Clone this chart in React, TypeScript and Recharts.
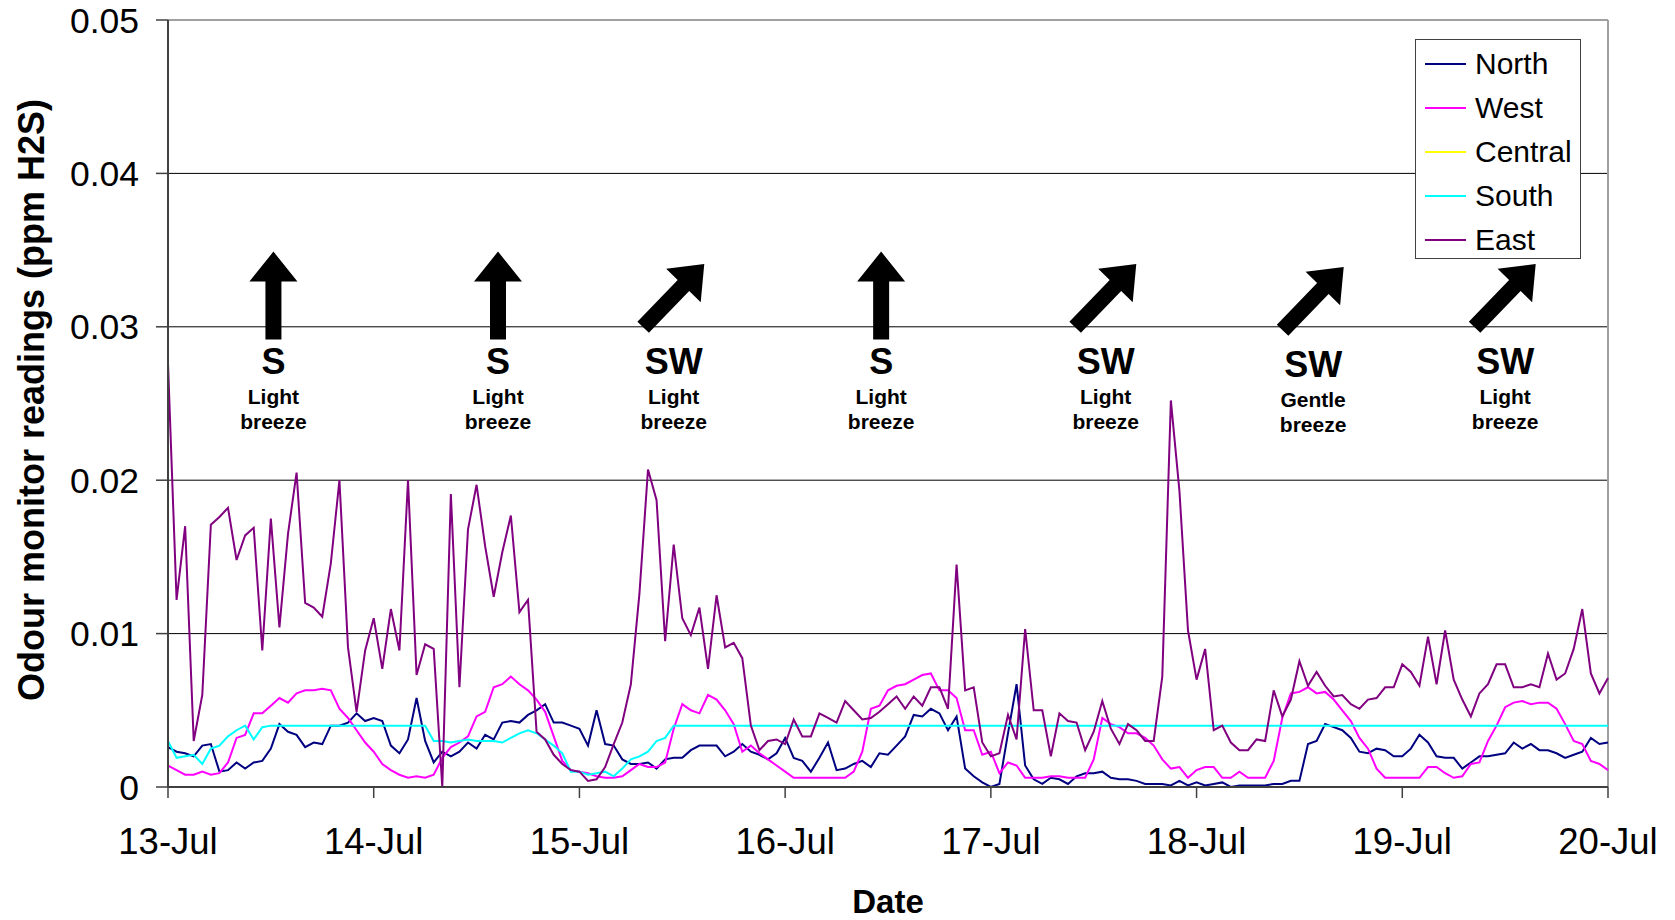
import {
  LineChart,
  Line,
  XAxis,
  YAxis,
  CartesianGrid,
  ReferenceLine,
  ReferenceDot,
  Customized,
} from "recharts";

const FONT = '"Liberation Sans", Arial, Helvetica, sans-serif';

// date axis: hourly readings, one tick per midnight
const dayTicks = [0, 24, 48, 72, 96, 120, 144, 168];
const dayLabels = ["13-Jul", "14-Jul", "15-Jul", "16-Jul", "17-Jul", "18-Jul", "19-Jul", "20-Jul"];
const yTicks = [0, 0.01, 0.02, 0.03, 0.04, 0.05];

// odour monitor readings (ppm H2S), hourly from 13-Jul 00:00
const north = [
  0.0026, 0.0023, 0.0022, 0.002, 0.0027, 0.0028, 0.001, 0.0011, 0.0016, 0.0012, 0.0016, 0.0017,
  0.0025, 0.0041, 0.0036, 0.0034, 0.0026, 0.0029, 0.0028, 0.004, 0.004, 0.0042, 0.0048, 0.0043,
  0.0045, 0.0043, 0.0027, 0.0022, 0.0031, 0.0058, 0.003, 0.0016, 0.0023, 0.002, 0.0023, 0.0029,
  0.0025, 0.0034, 0.0031, 0.0042, 0.0043, 0.0042, 0.0047, 0.005, 0.0054, 0.0042, 0.0042, 0.004,
  0.0038, 0.0027, 0.005, 0.0028, 0.0027, 0.0018, 0.0015, 0.0015, 0.0016, 0.0012, 0.0018, 0.0019,
  0.0019, 0.0024, 0.0027, 0.0027, 0.0027, 0.002, 0.0023, 0.0028, 0.0023, 0.0021, 0.0018, 0.0022,
  0.0032, 0.0019, 0.0017, 0.001, 0.0019, 0.0029, 0.0011, 0.0012, 0.0015, 0.0017, 0.0013, 0.0022,
  0.0021, 0.0027, 0.0033, 0.0047, 0.0046, 0.0051, 0.0048, 0.0037, 0.0046, 0.0012, 0.0007, 0.0003,
  0.0, 0.0002, 0.0035, 0.0067, 0.0014, 0.0005, 0.0002, 0.0006, 0.0005, 0.0002, 0.0007, 0.0009,
  0.0009, 0.001, 0.0006, 0.0005, 0.0005, 0.0004, 0.0002, 0.0002, 0.0002, 0.0001, 0.0004, 0.0001,
  0.0003, 0.0001, 0.0002, 0.0003, 0.0, 0.0001, 0.0001, 0.0001, 0.0001, 0.0002, 0.0002, 0.0004,
  0.0004, 0.0028, 0.003, 0.0041, 0.0039, 0.0037, 0.0032, 0.0023, 0.0022, 0.0025, 0.0024, 0.002,
  0.002, 0.0025, 0.0034, 0.0029, 0.002, 0.0019, 0.0019, 0.0012, 0.0016, 0.002, 0.002, 0.0021,
  0.0022, 0.0029, 0.0025, 0.0028, 0.0024, 0.0024, 0.0022, 0.0019, 0.0021, 0.0023, 0.0032, 0.0028,
  0.0029,
];

const west = [
  0.0014, 0.0011, 0.0008, 0.0008, 0.001, 0.0008, 0.0009, 0.0016, 0.0032, 0.0034, 0.0048, 0.0048,
  0.0053, 0.0058, 0.0055, 0.0061, 0.0063, 0.0063, 0.0064, 0.0063, 0.0051, 0.0045, 0.0037, 0.0029,
  0.0023, 0.0015, 0.0011, 0.0008, 0.0006, 0.0007, 0.0006, 0.0008, 0.0019, 0.0026, 0.0029, 0.0033,
  0.0046, 0.0049, 0.0065, 0.0067, 0.0072, 0.0067, 0.0063, 0.0057, 0.0049, 0.0033, 0.0017, 0.0011,
  0.001, 0.0009, 0.0007, 0.0006, 0.0006, 0.0007, 0.0011, 0.0015, 0.0013, 0.0013, 0.0016, 0.0038,
  0.0054, 0.005, 0.0048, 0.006, 0.0057, 0.005, 0.0041, 0.0023, 0.0027, 0.0022, 0.0018, 0.0014,
  0.001, 0.0006, 0.0006, 0.0006, 0.0006, 0.0006, 0.0006, 0.0006, 0.001, 0.0023, 0.0051, 0.0053,
  0.0063, 0.0066, 0.0067, 0.007, 0.0073, 0.0074, 0.0063, 0.0063, 0.0058, 0.0037, 0.0037, 0.0021,
  0.0023, 0.0009, 0.0016, 0.0014, 0.0006, 0.0006, 0.0006, 0.0007, 0.0007, 0.0006, 0.0006, 0.0006,
  0.0018, 0.0045, 0.0041, 0.0039, 0.0035, 0.0035, 0.0032, 0.0027, 0.0018, 0.0012, 0.0013, 0.0006,
  0.0011, 0.0013, 0.0013, 0.0006, 0.0006, 0.001, 0.0006, 0.0006, 0.0006, 0.0017, 0.0045, 0.0061,
  0.0062, 0.0065, 0.0061, 0.0062, 0.0057, 0.005, 0.0043, 0.0032, 0.0025, 0.0012, 0.0006, 0.0006,
  0.0006, 0.0006, 0.0006, 0.0013, 0.0013, 0.0009, 0.0006, 0.0007, 0.0015, 0.0016, 0.003, 0.004,
  0.0052, 0.0055, 0.0056, 0.0054, 0.0055, 0.0055, 0.0051, 0.0041, 0.003, 0.0028, 0.0017, 0.0015,
  0.0011,
];

// Central is listed in the legend but has no readings in this period
const central: (number | null)[] = [];

const south = [
  0.003, 0.0019, 0.002, 0.0021, 0.0015, 0.0025, 0.0027, 0.0033, 0.0037, 0.004, 0.0031, 0.0039,
  0.004, 0.004, 0.004, 0.004, 0.004, 0.004, 0.004, 0.004, 0.004, 0.004, 0.004, 0.004,
  0.004, 0.004, 0.004, 0.004, 0.004, 0.004, 0.004, 0.003, 0.003, 0.0029, 0.003, 0.0031,
  0.003, 0.003, 0.003, 0.0029, 0.0032, 0.0035, 0.0037, 0.0035, 0.0031, 0.0027, 0.0022, 0.001,
  0.001, 0.0008, 0.0009, 0.001, 0.0007, 0.0012, 0.0018, 0.002, 0.0023, 0.003, 0.0032, 0.004,
  0.004, 0.004, 0.004, 0.004, 0.004, 0.004, 0.004, 0.004, 0.004, 0.004, 0.004, 0.004,
  0.004, 0.004, 0.004, 0.004, 0.004, 0.004, 0.004, 0.004, 0.004, 0.004, 0.004, 0.004,
  0.004, 0.004, 0.004, 0.004, 0.004, 0.004, 0.004, 0.004, 0.004, 0.004, 0.004, 0.004,
  0.004, 0.004, 0.004, 0.004, 0.004, 0.004, 0.004, 0.004, 0.004, 0.004, 0.004, 0.004,
  0.004, 0.004, 0.004, 0.004, 0.004, 0.004, 0.004, 0.004, 0.004, 0.004, 0.004, 0.004,
  0.004, 0.004, 0.004, 0.004, 0.004, 0.004, 0.004, 0.004, 0.004, 0.004, 0.004, 0.004,
  0.004, 0.004, 0.004, 0.004, 0.004, 0.004, 0.004, 0.004, 0.004, 0.004, 0.004, 0.004,
  0.004, 0.004, 0.004, 0.004, 0.004, 0.004, 0.004, 0.004, 0.004, 0.004, 0.004, 0.004,
  0.004, 0.004, 0.004, 0.004, 0.004, 0.004, 0.004, 0.004, 0.004, 0.004, 0.004, 0.004,
  0.004,
];

const east = [
  0.0276, 0.0122, 0.017, 0.003, 0.006, 0.0171, 0.0176, 0.0182, 0.0148, 0.0164, 0.0169, 0.0089,
  0.0175, 0.0104, 0.0165, 0.0205, 0.012, 0.0117, 0.0111, 0.0146, 0.02, 0.0091, 0.0049, 0.0089,
  0.011, 0.0077, 0.0116, 0.0089, 0.02, 0.0073, 0.0093, 0.009, 0.0, 0.0191, 0.0065, 0.0168,
  0.0197, 0.0157, 0.0124, 0.0153, 0.0177, 0.0114, 0.0122, 0.0036, 0.0031, 0.0021, 0.0015, 0.0011,
  0.001, 0.0004, 0.0005, 0.0013, 0.0028, 0.0042, 0.0067, 0.0126, 0.0207, 0.0187, 0.0095, 0.0158,
  0.011, 0.0099, 0.0117, 0.0077, 0.0125, 0.0091, 0.0094, 0.0084, 0.004, 0.0024, 0.003, 0.0031,
  0.0028, 0.0044, 0.0033, 0.0033, 0.0048, 0.0045, 0.0042, 0.0056, 0.005, 0.0044, 0.0045, 0.0049,
  0.0054, 0.0059, 0.0051, 0.0059, 0.0053, 0.0065, 0.0065, 0.0051, 0.0145, 0.0063, 0.0065, 0.0029,
  0.002, 0.0022, 0.0047, 0.0031, 0.0103, 0.005, 0.005, 0.002, 0.0048, 0.0043, 0.0042, 0.0024,
  0.0036, 0.0056, 0.0038, 0.0028, 0.0041, 0.0037, 0.003, 0.003, 0.0072, 0.0252, 0.0193, 0.0102,
  0.007, 0.009, 0.0037, 0.004, 0.0029, 0.0024, 0.0024, 0.0031, 0.003, 0.0063, 0.0046, 0.0057,
  0.0082, 0.0066, 0.0075, 0.0066, 0.0059, 0.006, 0.0054, 0.0051, 0.0057, 0.0058, 0.0065, 0.0065,
  0.008, 0.0075, 0.0066, 0.0098, 0.0067, 0.0102, 0.007, 0.0057, 0.0046, 0.0061, 0.0067, 0.008,
  0.008, 0.0065, 0.0065, 0.0067, 0.0065, 0.0087, 0.007, 0.0074, 0.009, 0.0116, 0.0074, 0.0061,
  0.0071,
];

const seriesKeys = ["north", "west", "central", "south", "east"];
const seriesNames = ["North", "West", "Central", "South", "East"];
const seriesColors = ["#000080", "#FF00FF", "#FFFF00", "#00FFFF", "#800080"];

// wind annotations: hour of the window, direction, strength and label height
const windHours = [12.3, 38.5, 59, 83.2, 109.4, 133.6, 156];
const windDirs = ["S", "S", "SW", "S", "SW", "SW", "SW"];
const windStrengths = ["Light", "Light", "Light", "Light", "Light", "Gentle", "Light"];
const windLevels = [0.0278, 0.0278, 0.0278, 0.0278, 0.0278, 0.0276, 0.0278];

const data = north.map((v, i) => ({
  h: i,
  north: v,
  west: west[i],
  central: central[i] ?? null,
  south: south[i],
  east: east[i],
}));

function WindMark({ cx, cy, dir, strength }: { cx: number; cy: number; dir: string; strength: string }) {
  const angle = dir === "SW" ? 44 : 0;
  return (
    <g>
      <g transform={`translate(${cx},${cy - 65}) rotate(${angle})`}>
        <polygon points="0,-44 24,-14 8,-14 8,44 -8,44 -8,-14 -24,-14" fill="#000" />
      </g>
      <text x={cx} y={cy + 13} textAnchor="middle" fontFamily={FONT} fontWeight="bold" fontSize={36} fill="#000">
        {dir}
      </text>
      <text x={cx} y={cy + 43} textAnchor="middle" fontFamily={FONT} fontWeight="bold" fontSize={21} fill="#000">
        {strength}
      </text>
      <text x={cx} y={cy + 68} textAnchor="middle" fontFamily={FONT} fontWeight="bold" fontSize={21} fill="#000">
        breeze
      </text>
    </g>
  );
}

function Titles() {
  return (
    <g fontFamily={FONT} fontWeight="bold" fill="#000">
      <text x={44} y={400} fontSize={36} textAnchor="middle" transform="rotate(-90, 44, 400)">
        Odour monitor readings (ppm H2S)
      </text>
      <text x={888} y={913} fontSize={33} textAnchor="middle">
        Date
      </text>
    </g>
  );
}

export default function App() {
  return (
    <div style={{ position: "absolute", left: 0, top: 0, width: 1675, height: 920, background: "#fff" }}>
      <LineChart width={1675} height={920} data={data} margin={{ top: 20, right: 67, bottom: 0, left: 0 }}>
        <CartesianGrid vertical={false} horizontalValues={[0.01, 0.02, 0.03, 0.04]} stroke="#000" strokeWidth={1} />
        <ReferenceLine y={0.05} stroke="#a0a0a0" strokeWidth={2} />
        <ReferenceLine x={168} stroke="#a0a0a0" strokeWidth={2} />
        <XAxis
          dataKey="h"
          type="number"
          domain={[0, 168]}
          ticks={dayTicks}
          tickFormatter={(v: number) => dayLabels[dayTicks.indexOf(v)] ?? ""}
          height={133}
          tickSize={11}
          tickMargin={30}
          axisLine={{ stroke: "#404040", strokeWidth: 2 }}
          tickLine={{ stroke: "#404040", strokeWidth: 1.5 }}
          tick={{ fontFamily: FONT, fontSize: 36.5, fill: "#000" }}
          interval={0}
        />
        <YAxis
          type="number"
          domain={[0, 0.05]}
          ticks={yTicks}
          tickFormatter={(v: number) => (v === 0 ? "0" : v.toFixed(2))}
          width={168}
          tickSize={12}
          tickMargin={17}
          axisLine={{ stroke: "#404040", strokeWidth: 2 }}
          tickLine={{ stroke: "#404040", strokeWidth: 1.5 }}
          tick={{ fontFamily: FONT, fontSize: 35.5, fill: "#000" }}
          interval={0}
        />
        {seriesKeys.map((k, i) => (
          <Line
            key={k}
            type="linear"
            dataKey={k}
            name={seriesNames[i]}
            stroke={seriesColors[i]}
            strokeWidth={2}
            dot={false}
            activeDot={false}
            isAnimationActive={false}
            connectNulls={false}
          />
        ))}
        {windHours.map((h, i) => (
          <ReferenceDot
            key={`wind-${i}`}
            x={h}
            y={windLevels[i]}
            r={0}
            shape={(p: any) => <WindMark cx={p.cx} cy={p.cy} dir={windDirs[i]} strength={windStrengths[i]} />}
          />
        ))}
        <Customized component={Titles} />
      </LineChart>
      <div
        style={{
          position: "absolute",
          left: 1415,
          top: 39,
          width: 164,
          height: 218,
          border: "1px solid #404040",
          background: "#fff",
          fontFamily: FONT,
        }}
      >
        {seriesNames.map((name, i) => (
          <div
            key={name}
            style={{ position: "absolute", left: 0, top: 1.5 + i * 44, height: 44, width: 164, display: "flex", alignItems: "center" }}
          >
            <div style={{ marginLeft: 9, width: 41, height: 2, background: seriesColors[i] }} />
            <span style={{ marginLeft: 9, fontSize: 30, color: "#000", lineHeight: "44px" }}>{name}</span>
          </div>
        ))}
      </div>
    </div>
  );
}
